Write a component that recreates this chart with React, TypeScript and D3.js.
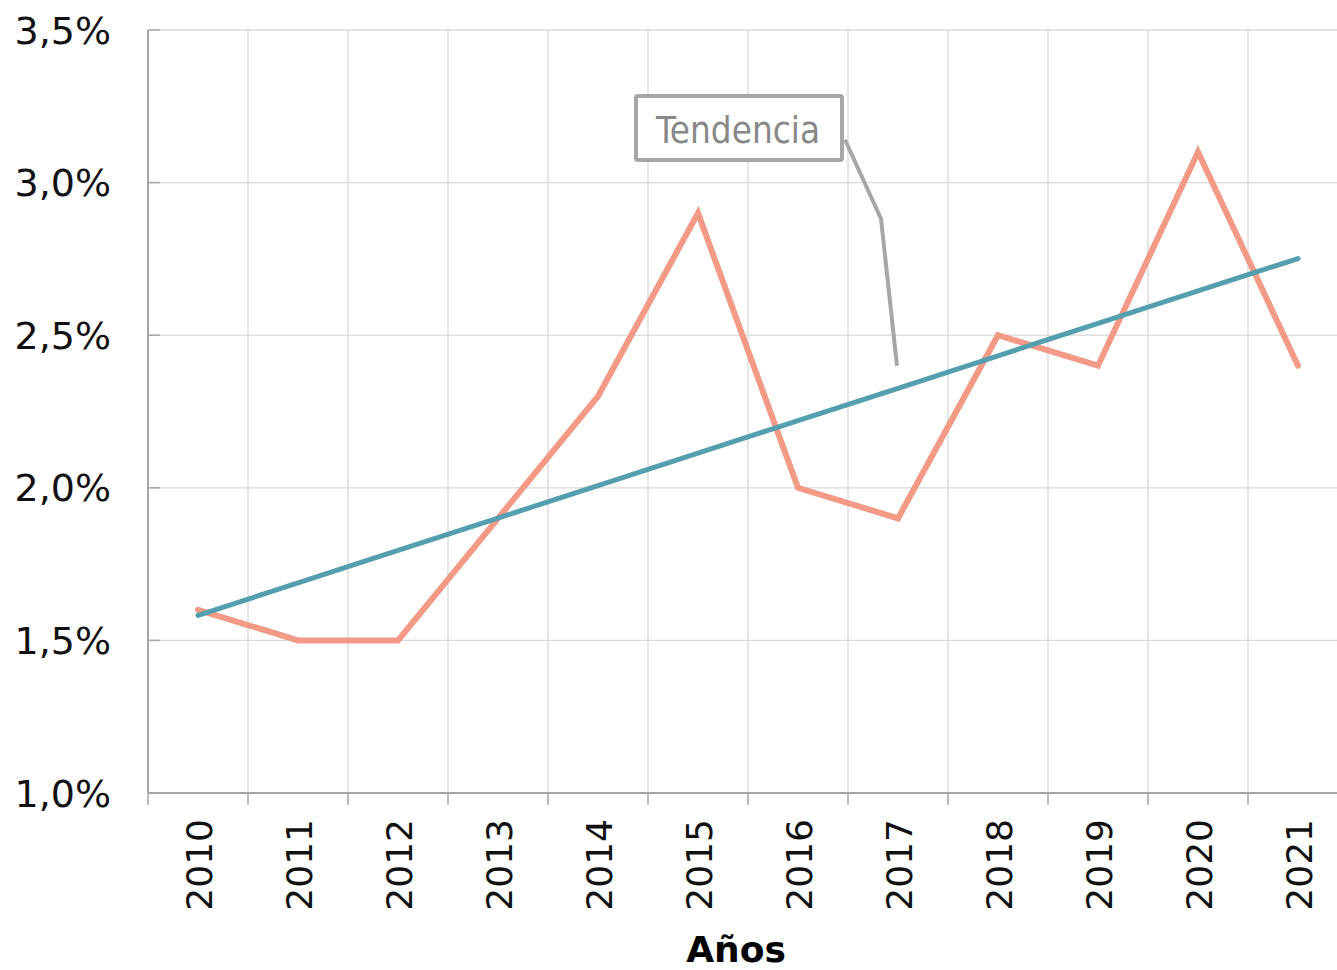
import * as d3 from 'd3';

const years = ['2010', '2011', '2012', '2013', '2014', '2015', '2016', '2017', '2018', '2019', '2020', '2021'];
const values = [1.6, 1.5, 1.5, 1.9, 2.3, 2.9, 2.0, 1.9, 2.5, 2.4, 3.1, 2.4];
const yTicks = [1.0, 1.5, 2.0, 2.5, 3.0, 3.5];

const W = 1337;
const H = 970;
const margin = { top: 30, right: 0, bottom: 177, left: 148 };
const font = '"DejaVu Sans", Verdana, sans-serif';

const App = () => {
  const x = d3.scaleBand<string>()
    .domain(years)
    .range([margin.left, margin.left + 100 * years.length]);
  const y = d3.scaleLinear()
    .domain([1.0, 3.5])
    .range([H - margin.bottom, margin.top]);

  const cx = (d: string) => (x(d) ?? 0) + x.bandwidth() / 2;

  // least squares trend over the series
  const n = values.length;
  const mx = (n - 1) / 2;
  const my = d3.mean(values) ?? 0;
  const sxy = d3.sum(values, (v, i) => (i - mx) * (v - my));
  const sxx = d3.sum(values, (_v, i) => (i - mx) * (i - mx));
  const slope = sxy / sxx;
  const icpt = my - slope * mx;
  const trend = years.map((yr, i) => ({ yr, v: icpt + slope * i }));

  const line = d3.line<number>()
    .x((_d, i) => cx(years[i]))
    .y(d => y(d));
  const trendLine = d3.line<{ yr: string; v: number }>()
    .x(d => cx(d.yr))
    .y(d => y(d.v));

  const fmt = (v: number) => v.toFixed(1).replace('.', ',') + '%';
  const bottom = y(1.0);
  const top = y(3.5);

  // annotation anchored on the trend at 2017
  const ax = cx('2017') - 1;
  const ay = y(2.4);

  return (
    <svg width={W} height={H} style={{ position: 'absolute', left: 0, top: 0, background: '#fff' }}>
      {/* horizontal grid */}
      {yTicks.map(t => (
        <line key={'h' + t} x1={margin.left} x2={W} y1={y(t)} y2={y(t)} stroke="#d9d9d9" strokeWidth={1.3} />
      ))}
      {/* vertical grid at band boundaries */}
      {years.slice(1).map(yr => (
        <line key={'v' + yr} x1={x(yr)} x2={x(yr)} y1={top} y2={bottom} stroke="#d9d9d9" strokeWidth={1.3} />
      ))}
      {/* y axis */}
      <line x1={margin.left} x2={margin.left} y1={top} y2={bottom} stroke="#a6a6a6" strokeWidth={2} />
      {yTicks.map(t => (
        <g key={'yt' + t}>
          <line x1={margin.left} x2={margin.left + 12} y1={y(t)} y2={y(t)} stroke="#a6a6a6" strokeWidth={1.5} />
          <text x={111} y={y(t)} dy="0.36em" textAnchor="end" fontFamily={font} fontSize={38} fill="#111">
            {fmt(t)}
          </text>
        </g>
      ))}
      {/* x axis */}
      <line x1={margin.left} x2={W} y1={bottom} y2={bottom} stroke="#a6a6a6" strokeWidth={2} />
      {years.map(yr => (
        <line key={'xt' + yr} x1={x(yr)} x2={x(yr)} y1={bottom} y2={bottom + 12} stroke="#a6a6a6" strokeWidth={1.5} />
      ))}
      {years.map(yr => (
        <text
          key={'xl' + yr}
          transform={`translate(${cx(yr) + 1}, ${bottom + 26}) rotate(-90)`}
          dy="0.36em"
          textAnchor="end"
          fontFamily={font}
          fontSize={36}
          fill="#111"
        >
          {yr}
        </text>
      ))}
      <text x={736} y={962} textAnchor="middle" fontFamily={font} fontSize={36} fontWeight="bold" fill="#000">
        Años
      </text>

      {/* series */}
      <path d={line(values) ?? ''} fill="none" stroke="#f39a86" strokeWidth={6} strokeLinejoin="miter" strokeLinecap="round" />
      <path d={trendLine(trend) ?? ''} fill="none" stroke="#539faf" strokeWidth={5} strokeLinecap="round" />

      {/* annotation */}
      <polyline
        points={`${ax},${ay} ${ax - 16},${ay - 147} ${ax - 52},${ay - 226}`}
        fill="none"
        stroke="#a6a6a6"
        strokeWidth={4}
      />
      <rect x={636} y={96} width={206} height={64} rx={2} fill="#fff" stroke="#a6a6a6" strokeWidth={4} />
      <text x={738} y={129} dy="0.36em" textAnchor="middle" textLength={164} lengthAdjust="spacingAndGlyphs"
        fontFamily={'"DejaVu Sans Condensed", "DejaVu Sans", sans-serif'} fontSize={38} fill="#888">
        Tendencia
      </text>
    </svg>
  );
};

export default App;
